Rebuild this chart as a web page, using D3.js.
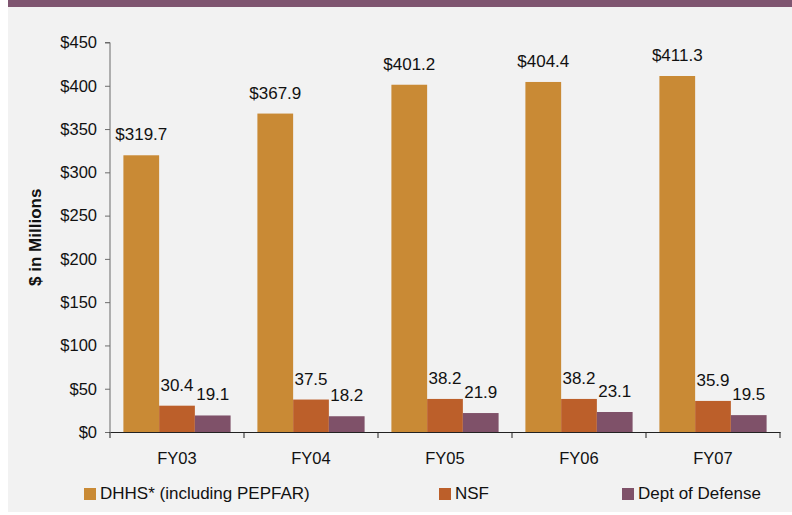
<!DOCTYPE html>
<html>
<head>
<meta charset="utf-8">
<script src="https://cdn.jsdelivr.net/npm/d3@7"></script>
<style>
  body { margin: 0; background: #fff; }
  svg { display: block; font-family: "Liberation Sans", Arial, sans-serif; }
</style>
</head>
<body>
<svg id="chart" width="792" height="515"></svg>
<script>
// values
const categories = ["FY03", "FY04", "FY05", "FY06", "FY07"];
const seriesNames = ["DHHS* (including PEPFAR)", "NSF", "Dept of Defense"];
const dhhs = [319.7, 367.9, 401.2, 404.4, 411.3];
const nsf = [30.4, 37.5, 38.2, 38.2, 35.9];
const dod = [19.1, 18.2, 21.9, 23.1, 19.5];
const yTicks = [0, 50, 100, 150, 200, 250, 300, 350, 400, 450];

const colors = ["#C98A35", "#BC5F2A", "#7F5169"];
const seriesValues = [dhhs, nsf, dod];

const svg = d3.select("#chart");

// panel + header strip
svg.append("rect").attr("x", 8).attr("y", 7).attr("width", 784).attr("height", 505).attr("fill", "#F2F2F2");
svg.append("rect").attr("x", 8).attr("y", 0).attr("width", 784).attr("height", 7).attr("fill", "#7F5570");

const plotLeft = 110, plotRight = 780, plotTop = 42.5, plotBottom = 432;

const x0 = d3.scaleBand().domain(categories).range([plotLeft, plotRight]).padding(0);
const x1 = d3.scaleBand().domain(seriesNames)
    .range([x0.bandwidth() * 0.1, x0.bandwidth() * 0.9]).padding(0);
const y = d3.scaleLinear().domain([0, 450]).range([plotBottom, plotTop]);

// bars
const rows = categories.map((c, i) => ({
    cat: c,
    vals: seriesNames.map((s, j) => ({ s: s, v: seriesValues[j][i], j: j }))
}));

const groups = svg.append("g").selectAll("g")
    .data(rows)
    .join("g")
    .attr("transform", d => `translate(${x0(d.cat)},0)`);

groups.selectAll("rect")
    .data(d => d.vals)
    .join("rect")
    .attr("x", d => x1(d.s))
    .attr("y", d => y(d.v))
    .attr("width", x1.bandwidth())
    .attr("height", d => y(0) - y(d.v))
    .attr("fill", d => colors[d.j]);

groups.selectAll("text")
    .data(d => d.vals)
    .join("text")
    .attr("x", d => x1(d.s) + x1.bandwidth() / 2)
    .attr("y", d => y(d.v) - 15)
    .attr("text-anchor", "middle")
    .style("font-size", "17px")
    .attr("fill", "#111")
    .text(d => d.j === 0 ? "$" + d.v.toFixed(1) : d.v.toFixed(1));

// y axis
const yAxis = svg.append("g")
    .attr("transform", `translate(${plotLeft},0)`)
    .call(d3.axisLeft(y).tickValues(yTicks).tickSize(5).tickPadding(8).tickFormat(d => "$" + d));
yAxis.selectAll("path, line").attr("stroke", "#6b6b6b");
yAxis.select(".domain").attr("d", `M-5,${plotTop}H0V${plotBottom}`);
yAxis.selectAll("text").style("font-size", "16.5px").attr("fill", "#111").attr("font-family", null);

// x axis
const xAxis = svg.append("g")
    .attr("transform", `translate(0,${plotBottom})`)
    .call(d3.axisBottom(x0).tickSize(0).tickPadding(20));
xAxis.select(".domain").attr("stroke", "#222");
xAxis.selectAll("text").style("font-size", "16.5px").attr("fill", "#111").attr("font-family", null);
svg.append("g").selectAll("line")
    .data(d3.range(categories.length + 1))
    .join("line")
    .attr("x1", i => plotLeft + i * x0.step())
    .attr("x2", i => plotLeft + i * x0.step())
    .attr("y1", plotBottom)
    .attr("y2", plotBottom + 6)
    .attr("stroke", "#222");

// y title
svg.append("text")
    .attr("transform", `translate(41,${(plotTop + plotBottom) / 2}) rotate(-90)`)
    .attr("text-anchor", "middle")
    .style("font-size", "17px")
    .style("font-weight", "bold")
    .attr("fill", "#111")
    .text("$ in Millions");

// legend
const legendX = [84, 439, 622];
const legend = svg.append("g").selectAll("g")
    .data(seriesNames)
    .join("g")
    .attr("transform", (d, i) => `translate(${legendX[i]},488)`);
legend.append("rect").attr("width", 12).attr("height", 12).attr("fill", (d, i) => colors[i]);
legend.append("text")
    .attr("x", 16)
    .attr("y", 11)
    .style("font-size", "17px")
    .attr("fill", "#111")
    .text(d => d);
</script>
</body>
</html>
